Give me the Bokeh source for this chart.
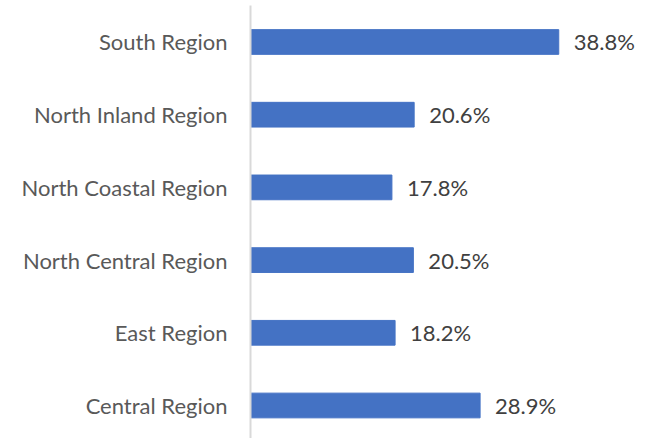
from bokeh.plotting import figure
from bokeh.models import Range1d, ColumnDataSource, FixedTicker
from bokeh.embed import file_html
from bokeh.resources import INLINE
from bokeh.core.properties import value

categories = ["Central Region", "East Region", "North Central Region",
              "North Coastal Region", "North Inland Region", "South Region"]
values = [28.9, 18.2, 20.5, 17.8, 20.6, 38.8]
labels = [f"{v:.1f}%" for v in values]
ypos = [i + 0.5 for i in range(len(categories))]

src = ColumnDataSource(dict(y=ypos, v=values, lab=labels))

p = figure(width=652, height=438, output_backend="svg", toolbar_location=None,
           x_range=Range1d(0, 50.6), y_range=Range1d(0.046, 6.002),
           min_border_left=250, min_border_right=0, min_border_top=5, min_border_bottom=0)
p.hbar(y="y", right="v", left=0, height=0.34, source=src, color="#4472C4")
p.text(x="v", y="y", text="lab", source=src, x_offset=15,
       text_align="left", text_baseline="middle",
       text_font=value("Lato"), text_font_size="22px", text_color="#404040")

p.xaxis.visible = False
p.xgrid.visible = False
p.ygrid.visible = False
p.outline_line_color = None

ax = p.yaxis[0]
ax.ticker = FixedTicker(ticks=ypos)
ax.major_label_overrides = {y: c for y, c in zip(ypos, categories)}
ax.major_tick_line_color = None
ax.minor_tick_line_color = None
ax.axis_line_color = "#D9D9D9"
ax.axis_line_width = 2
ax.major_label_standoff = 17
ax.major_label_text_font = "Lato"
ax.major_label_text_font_size = "22px"
ax.major_label_text_color = "#595959"

open("out.html", "w").write(file_html(p, INLINE))
